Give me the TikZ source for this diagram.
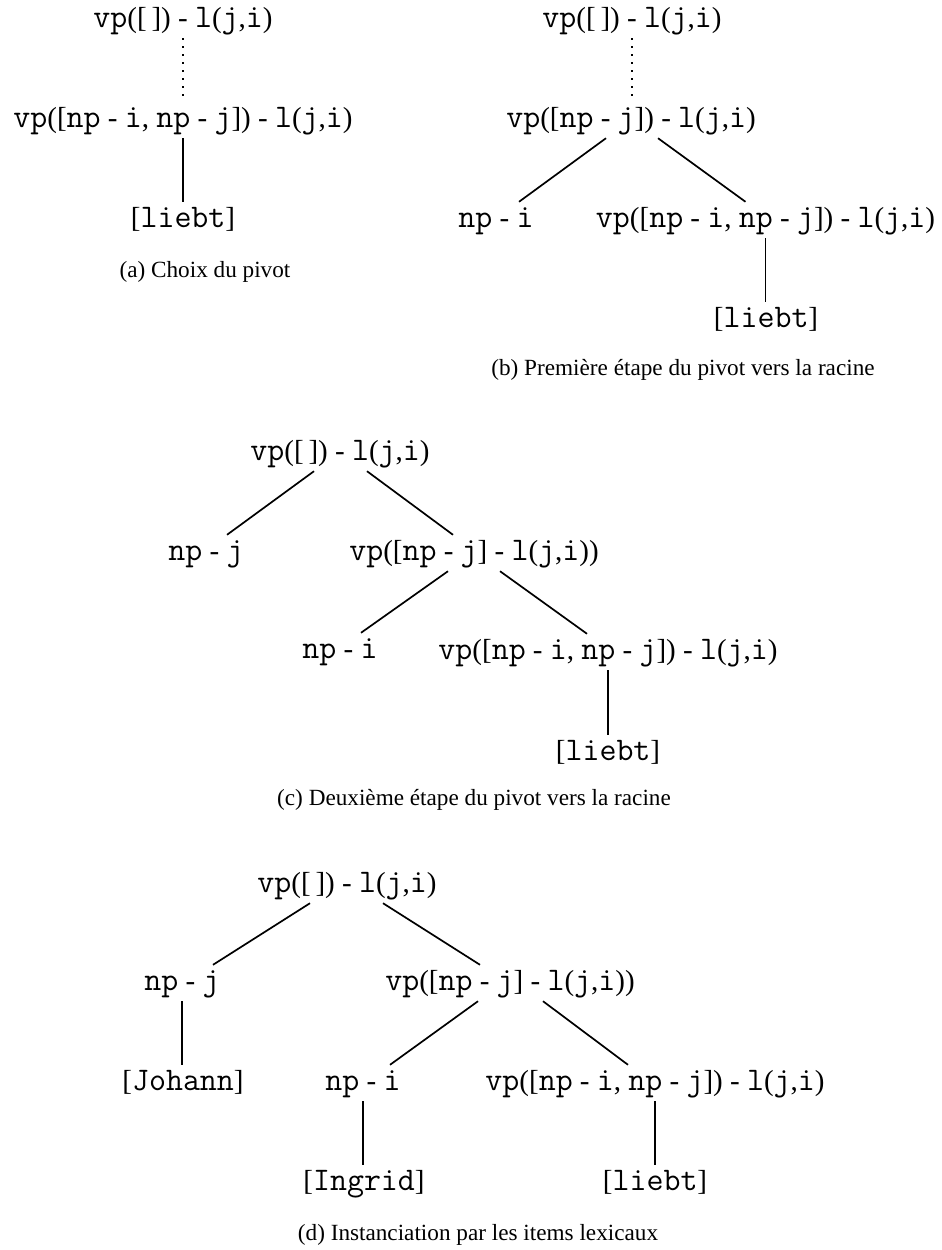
\documentclass[tikz,border=0pt]{standalone}
\usepackage{fontspec}
\setmainfont{Liberation Serif}
\usetikzlibrary{calc}
\newcommand\tw[1]{{\fontsize{33}{34}\selectfont\ttfamily #1}}
\begin{document}
\begin{tikzpicture}[x=1pt,y=-1pt,
  lbl/.style={font=\fontsize{29}{34}\selectfont, inner xsep=0pt, inner ysep=3.5pt, text height=21.75pt, text depth=7.25pt, anchor=center},
  captxt/.style={font=\fontsize{23.2}{28}\selectfont, inner sep=0pt},
  edge/.style={line width=1.7pt},
  dots/.style={line width=1.6pt, dash pattern=on 1.6pt off 6.4pt}]
\useasboundingbox (0,0) rectangle (942,1250);

% (a)
\node[lbl] (a1) at (183,20) {\tw{vp}([\,])~-~\tw{l}(\tw{j},\tw{i})};
\node[lbl] (a2) at (183,120) {\tw{vp}([\tw{np}~-~\tw{i}, \tw{np}~-~\tw{j}])~-~\tw{l}(\tw{j},\tw{i})};
\node[lbl] (a3) at (183,220) {[\tw{liebt}]};
\node[captxt] (capa) at (205,272) {(a) Choix du pivot};
\draw[dots] (a1.south) -- (a1.south |- a2.north);
\draw[edge] (a2.south) -- (a3.north);

% (b)
\node[lbl] (b1) at (632,20) {\tw{vp}([\,])~-~\tw{l}(\tw{j},\tw{i})};
\node[lbl] (b2) at (631,120) {\tw{vp}([\tw{np}~-~\tw{j}])~-~\tw{l}(\tw{j},\tw{i})};
\node[lbl] (b3) at (496,220) {\tw{np}~-~\tw{i}};
\node[lbl] (b4) at (765.5,220) {\tw{vp}([\tw{np}~-~\tw{i}, \tw{np}~-~\tw{j}])~-~\tw{l}(\tw{j},\tw{i})};
\node[lbl] (b5) at (766,320) {[\tw{liebt}]};
\node[captxt] (capb) at (683,370) {(b) Première étape du pivot vers la racine};
\draw[dots] (b1.south) -- (b1.south |- b2.north);
\draw[edge] ($(b2.south)+(-25,0)$) -- ($(b3.north)+(23,0)$);
\draw[edge] ($(b2.south)+(27,0)$) -- ($(b4.north)+(-20,0)$);
\draw[edge] (b4.south) -- (b4.south |- b5.north);

% (c)
\node[lbl] (c1) at (340,453) {\tw{vp}([\,])~-~\tw{l}(\tw{j},\tw{i})};
\node[lbl] (c2) at (206,553) {\tw{np}~-~\tw{j}};
\node[lbl] (c3) at (474,553) {\tw{vp}([\tw{np}~-~\tw{j}]~-~\tw{l}(\tw{j},\tw{i}))};
\node[lbl] (c4) at (340,651) {\tw{np}~-~\tw{i}};
\node[lbl] (c5) at (608,652) {\tw{vp}([\tw{np}~-~\tw{i}, \tw{np}~-~\tw{j}])~-~\tw{l}(\tw{j},\tw{i})};
\node[lbl] (c6) at (608,753) {[\tw{liebt}]};
\node[captxt] (capc) at (474,800) {(c) Deuxième étape du pivot vers la racine};
\draw[edge] ($(c1.south)+(-26,0)$) -- ($(c2.north)+(21,0)$);
\draw[edge] ($(c1.south)+(27,0)$) -- ($(c3.north)+(-21,0)$);
\draw[edge] ($(c3.south)+(-26,0)$) -- ($(c4.north)+(21,0)$);
\draw[edge] ($(c3.south)+(26,0)$) -- ($(c5.north)+(-21,0)$);
\draw[edge] (c5.south) -- (c6.north);

% (d)
\node[lbl] (d1) at (347,885) {\tw{vp}([\,])~-~\tw{l}(\tw{j},\tw{i})};
\node[lbl] (d2) at (182,983) {\tw{np}~-~\tw{j}};
\node[lbl] (d3) at (510,983) {\tw{vp}([\tw{np}~-~\tw{j}]~-~\tw{l}(\tw{j},\tw{i}))};
\node[lbl] (d4) at (183,1083) {[\tw{Johann}]};
\node[lbl] (d5) at (363,1083) {\tw{np}~-~\tw{i}};
\node[lbl] (d6) at (655,1083) {\tw{vp}([\tw{np}~-~\tw{i}, \tw{np}~-~\tw{j}])~-~\tw{l}(\tw{j},\tw{i})};
\node[lbl] (d7) at (364,1183) {[\tw{Ingrid}]};
\node[lbl] (d8) at (655,1183) {[\tw{liebt}]};
\node[captxt] (capd) at (478,1235) {(d) Instanciation par les items lexicaux};
\draw[edge] ($(d1.south)+(-37,0)$) -- ($(d2.north)+(31,0)$);
\draw[edge] ($(d1.south)+(36,0)$) -- ($(d3.north)+(-30,0)$);
\draw[edge] (d2.south) -- (d2.south |- d4.north);
\draw[edge] ($(d3.south)+(-32,0)$) -- ($(d5.north)+(27,0)$);
\draw[edge] ($(d3.south)+(33,0)$) -- ($(d6.north)+(-27,0)$);
\draw[edge] (d5.south) -- (d5.south |- d7.north);
\draw[edge] (d6.south) -- (d8.north);
\end{tikzpicture}
\end{document}
